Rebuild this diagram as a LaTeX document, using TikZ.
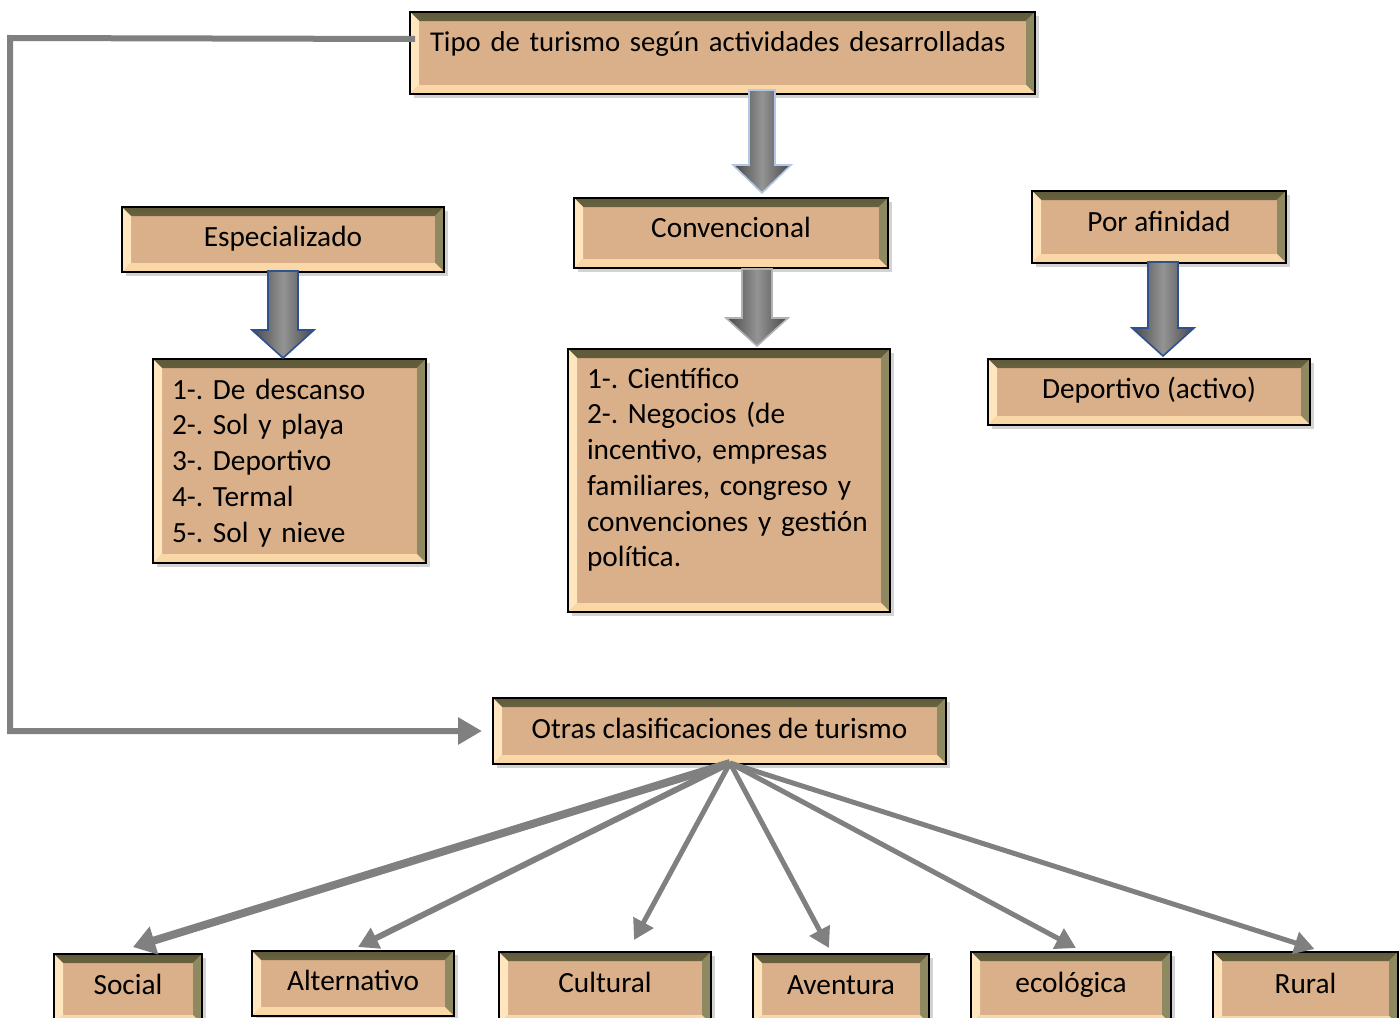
\documentclass[tikz,border=0pt]{standalone}
\usepackage{fontspec}
\setmainfont{Carlito}
\usetikzlibrary{arrows.meta,shadows,calc}
\definecolor{boxfill}{HTML}{D9B089}
\definecolor{bevtopA}{HTML}{5E5A3A}
\definecolor{bevtopB}{HTML}{B89B72}
\definecolor{bevleft}{HTML}{FFE6BE}
\definecolor{bevright}{HTML}{8E8961}
\definecolor{bevbot}{HTML}{FAD7A6}
\definecolor{conngray}{HTML}{808080}
\definecolor{arrowblue}{HTML}{2F528F}
\definecolor{arrowlight}{HTML}{B4C7E7}
\frenchspacing
\hyphenpenalty=10000
\begin{document}
\begin{tikzpicture}[x=1pt,y=-1pt,
  bx/.style={draw=black, line width=2pt, fill=boxfill, inner ysep=0pt, inner xsep=0pt,
    anchor=north west, font=\fontsize{29.3}{35.75}\selectfont,
    drop shadow={shadow xshift=4pt, shadow yshift=-4pt, opacity=0.35},
    path picture={
      \def\pb{path picture bounding box}
      \fill[top color=bevtopA, bottom color=bevtopB] (\pb.north west) -- (\pb.north east) -- ([shift={(-9pt,-9pt)}]\pb.north east) -- ([shift={(9pt,-9pt)}]\pb.north west) -- cycle;
      \fill[bevleft] (\pb.north west) -- ([shift={(9pt,-9pt)}]\pb.north west) -- ([shift={(9pt,9pt)}]\pb.south west) -- (\pb.south west) -- cycle;
      \fill[bevright] (\pb.north east) -- ([shift={(-9pt,-9pt)}]\pb.north east) -- ([shift={(-9pt,9pt)}]\pb.south east) -- (\pb.south east) -- cycle;
      \fill[bevbot] (\pb.south west) -- ([shift={(9pt,9pt)}]\pb.south west) -- ([shift={(-9pt,9pt)}]\pb.south east) -- (\pb.south east) -- cycle;
    }},
  conn/.style={draw=conngray, line width=6pt, line join=miter},
  fan/.style={draw=conngray, line width=5pt, -{Triangle[length=20pt,width=22pt]}},
  blk/.style={line width=1.6pt, left color=black!72, right color=black!72, middle color=black!42},
]
\useasboundingbox (0,0) rectangle (1399,1017);

% boxes
\node[bx, minimum width=625pt, text height=39pt, text depth=43pt, text width=585pt, align=left, inner xsep=20pt] (top) at (409,11) {\fontsize{28.7}{35}\selectfont\mbox{Tipo de turismo según actividades desarrolladas}};
\node[bx, minimum width=322pt, text height=39pt, text depth=26pt] (esp) at (121,206) {Especializado};
\node[bx, minimum width=314pt, text height=39pt, text depth=31pt] (conv) at (573,197) {Convencional};
\node[bx, minimum width=254pt, text height=40pt, text depth=32pt] (afin) at (1031,190) {Por afinidad};
\node[bx, minimum width=322pt, text height=39pt, text depth=27pt] (dep) at (987,358) {Deportivo (activo)};
\node[bx, text width=235pt, inner xsep=19pt, align=left, text height=40pt, text depth=164pt] (list1) at (152,358)
  {1-. De descanso\\2-. Sol y playa\\3-. Deportivo\\4-. Termal\\5-. Sol y nieve};
\node[bx, text width=284pt, inner xsep=19pt, align=left, text height=39pt, text depth=224pt] (list2) at (567,348)
  {1-. Científico\\\mbox{2-. Negocios (de}\\\mbox{incentivo, empresas}\\\mbox{familiares, congreso y}\\\mbox{convenciones y gestión}\\política.};
\node[bx, minimum width=453pt, text height=40pt, text depth=26pt] (otras) at (492,697) {Otras clasificaciones de turismo};

\node[bx, minimum width=148pt, text height=40pt, text depth=30pt] (social) at (53,953) {Social};
\node[bx, minimum width=202pt, text height=39pt, text depth=26pt] (alt) at (251,950) {Alternativo};
\node[bx, minimum width=212pt, text height=40pt, text depth=32pt] (cult) at (498,951) {Cultural};
\node[bx, minimum width=176pt, text height=40pt, text depth=30pt] (avent) at (752,953) {Aventura};
\node[bx, minimum width=200pt, text height=40pt, text depth=32pt] (eco) at (970,951) {ecológica};
\node[bx, minimum width=185pt, text height=41pt, text depth=32pt] (rural) at (1212,951) {Rural};

% block arrows
\newcommand\blockarr[6]{% x, y1, ytip, shaft half, head half, style
  \path[blk,#6] ({#1-#4},#2) -- ({#1-#4},{#3-28}) -- ({#1-#5},{#3-28}) -- (#1,#3) -- ({#1+#5},{#3-28}) -- ({#1+#4},{#3-28}) -- ({#1+#4},#2) -- cycle;}
\blockarr{762}{90}{193}{13}{29}{draw=arrowlight}
\blockarr{283}{271}{358}{15}{31}{draw=arrowblue}
\blockarr{757}{269}{346}{15}{31}{draw=black!30}
\blockarr{1163}{262}{356}{15}{31}{draw=arrowblue}

% loop connector
\coordinate (lstart) at ($(top.west)+(6pt,14pt)$);
\draw[conn, -{Triangle[length=24pt,width=26pt]}] (lstart) -- (10,38) |- ([xshift=-10pt]otras.west);

% fan connectors
\coordinate (hub) at (730,763);
\coordinate (tsocial) at ($(social.north)+(5pt,6pt)$);
\coordinate (talt) at ($(alt.north)+(5pt,3pt)$);
\coordinate (tcult) at ($(cult.north)+(29pt,11pt)$);
\coordinate (tavent) at ($(avent.north)+(-12pt,5pt)$);
\coordinate (teco) at ($(eco.north)+(5pt,3pt)$);
\coordinate (trural) at ($(rural.north)+(9pt,2pt)$);
\draw[fan, line width=8pt, -{Triangle[length=22pt,width=28pt]}] (hub) -- (tsocial);
\draw[fan, line width=6pt] (hub) -- (talt);
\draw[fan] (hub) -- (tcult);
\draw[fan] (hub) -- (tavent);
\draw[fan] (hub) -- (teco);
\draw[fan] (hub) -- (trural);
\end{tikzpicture}
\end{document}
